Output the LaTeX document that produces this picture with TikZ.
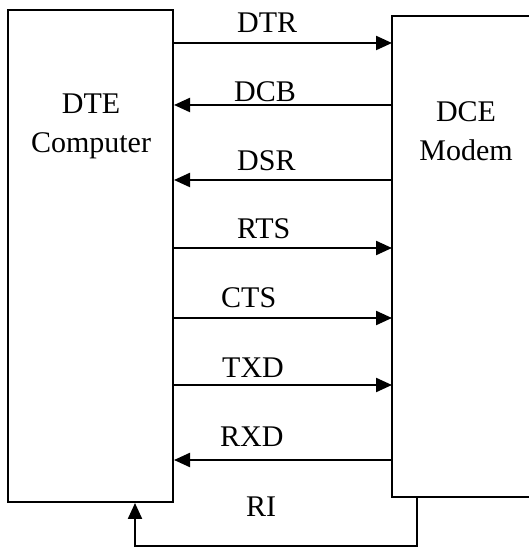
\documentclass[tikz,border=0pt]{standalone}
\usepackage{fontspec}
\setmainfont{Liberation Serif}
\usetikzlibrary{arrows.meta}

\begin{document}
\begin{tikzpicture}[x=1pt, y=1pt,
                lbl/.style={anchor=base west, inner sep=0pt, font=\fontsize{30}{36}\selectfont},
                txt/.style={anchor=base, inner sep=0pt, font=\fontsize{30}{36}\selectfont},
                sig/.style={line width=2.2pt, -{Triangle[length=16pt,width=14pt]}},
                box/.style={draw, line width=2pt, minimum width=165pt, minimum height=492pt, inner sep=0pt}]
                \useasboundingbox (0,0) rectangle (528,548);
                % DTE side
                \node[box] (dte) at (90.5,292) {};
                \node[txt] (dtename) at (91,434) {DTE};
                \node[txt] (dtecomp) at (91,395) {Computer};
                % DCE side (cut off on the right)
                \coordinate (dce) at (392,532);
                \coordinate (dcesw) at (392,51);
                \draw[line width=2pt] (540,532) -- (dce) -- (dcesw) -- (540,51);
                \node[txt] (dcename) at (466,426) {DCE};
                \node[txt] (dcemodem) at (466,387) {Modem};
                % signal rows
                \coordinate (dtr) at (300,505);
                \coordinate (dcb) at (300,443);
                \coordinate (dsr) at (300,368);
                \coordinate (rts) at (300,300);
                \coordinate (cts) at (300,230);
                \coordinate (txd) at (300,163);
                \coordinate (rxd) at (300,88);
                \coordinate (ri) at (417,2);
                \coordinate (ril) at (135,2);
                \draw[sig] (dte.east |- dtr) -- (dce |- dtr);
                \draw[sig] (dce |- dcb) -- (dte.east |- dcb);
                \draw[sig] (dce |- dsr) -- (dte.east |- dsr);
                \draw[sig] (dte.east |- rts) -- (dce |- rts);
                \draw[sig] (dte.east |- cts) -- (dce |- cts);
                \draw[sig] (dte.east |- txd) -- (dce |- txd);
                \draw[sig] (dce |- rxd) -- (dte.east |- rxd);
                \draw[sig] (dcesw -| ri) -- (ri) -- (ril) -- (ril |- dte.south);
                % labels
                \node[lbl] (ldtr) at (237,515) {DTR};
                \node[lbl] (ldcb) at (234,446) {DCB};
                \node[lbl] (ldsr) at (237,377) {DSR};
                \node[lbl] (lrts) at (237,309) {RTS};
                \node[lbl] (lcts) at (221,240) {CTS};
                \node[lbl] (ltxd) at (222,170) {TXD};
                \node[lbl] (lrxd) at (220,101) {RXD};
                \node[lbl] (lri) at (246,31) {RI};
            \end{tikzpicture}
\end{document}
